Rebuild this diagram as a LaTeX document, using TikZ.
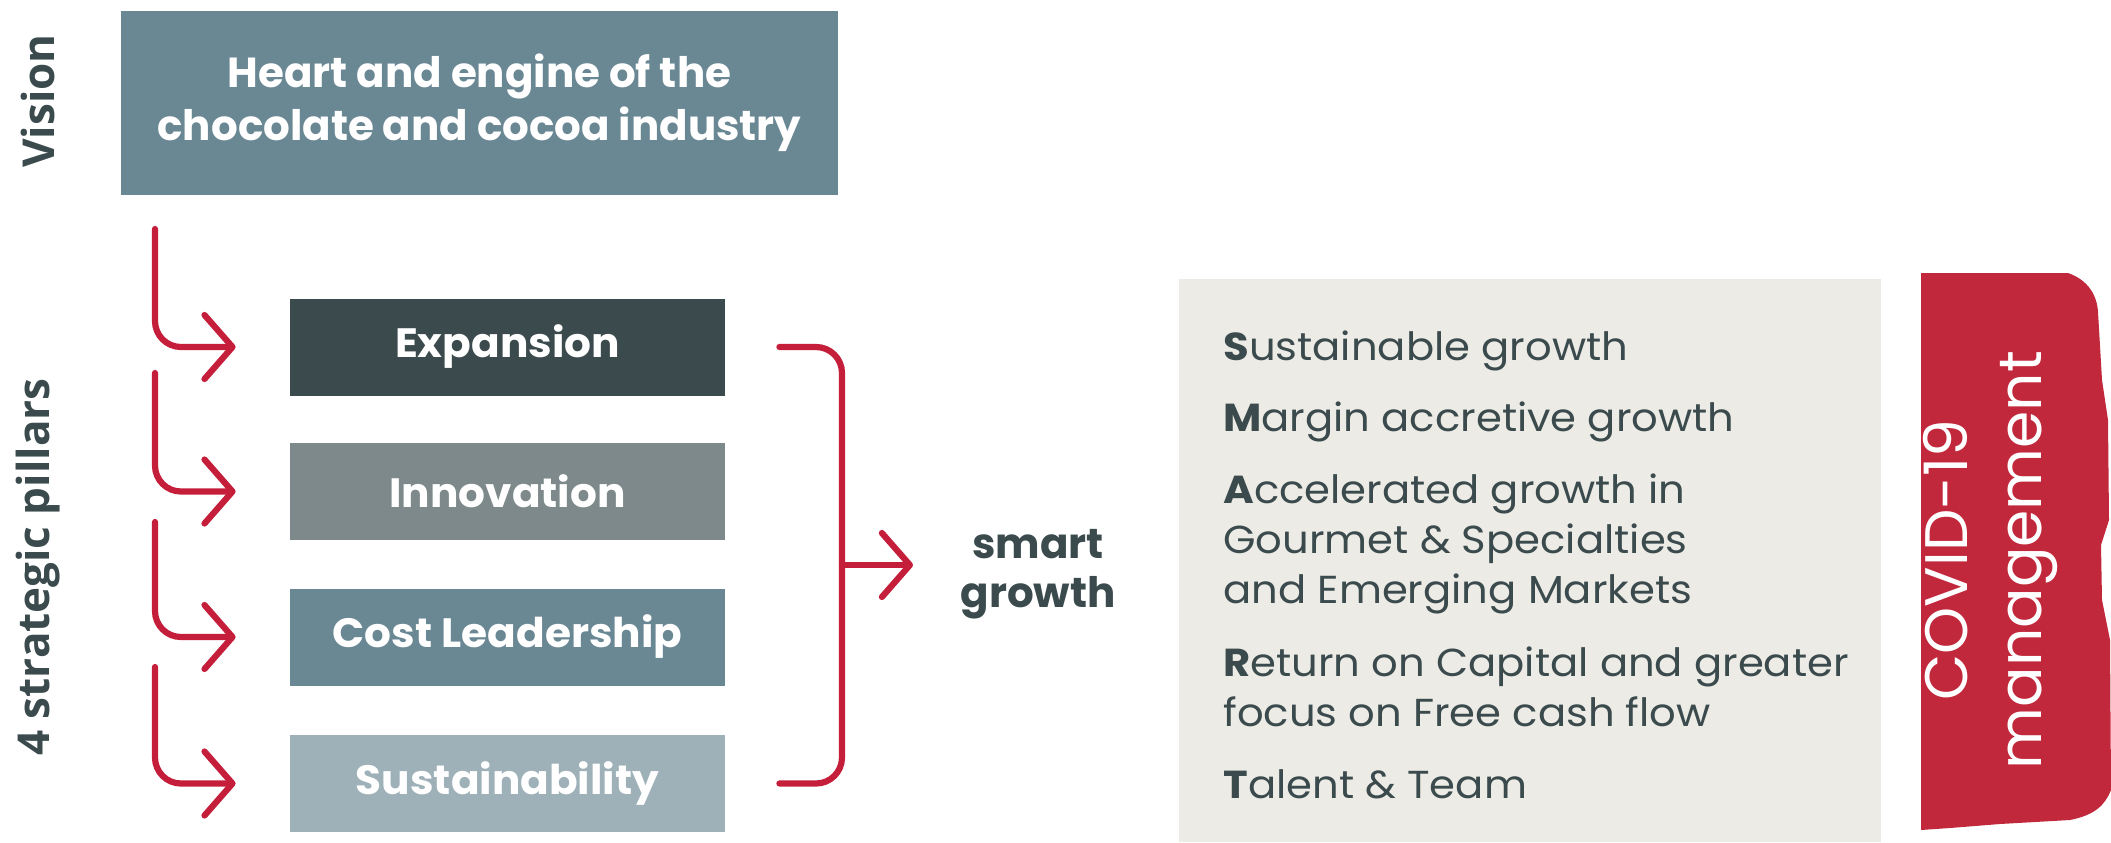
\documentclass[tikz,border=0pt]{standalone}
\usepackage{fontspec}
\setmainfont{Poppins}
\newfontfamily\sidefont{Open Sans}
\newfontfamily\goalfont{Poppins}[FakeStretch=1.07]
\newfontfamily\pillarfont{Poppins}[FakeStretch=1.03]
\usetikzlibrary{arrows.meta}
\definecolor{darktxt}{HTML}{3A4A4D}
\definecolor{visionc}{HTML}{6A8794}
\definecolor{expc}{HTML}{3B4A4C}
\definecolor{innc}{HTML}{7E898B}
\definecolor{costc}{HTML}{6A8794}
\definecolor{susc}{HTML}{9EB0B8}
\definecolor{beige}{HTML}{EDEBE5}
\definecolor{redline}{HTML}{C41E3A}
\definecolor{redbox}{HTML}{C1283B}
\begin{document}
\begin{tikzpicture}[x=0.5pt,y=-0.5pt,
  pillar/.style={minimum width=217.5pt, minimum height=48.5pt, inner sep=0pt, text=white,
    font=\pillarfont\bfseries\fontsize{20.5}{24}\selectfont},
  sidelabel/.style={rotate=90, text=darktxt, font=\sidefont\bfseries\fontsize{22}{24}\selectfont},
  goalline/.style={anchor=base west, inner sep=0pt, text=darktxt, font=\goalfont\fontsize{19.5}{24}\selectfont},
  redpath/.style={draw=redline, line width=3.1pt, rounded corners=13pt, line cap=round},
  redarrow/.style={redpath, -{Straight Barb[length=14pt,width=32pt,round]}}
]
\useasboundingbox (0,0) rectangle (2111,842);

% vision
\node[fill=visionc, minimum width=358.5pt, minimum height=92pt, inner sep=0pt, text=white,
  align=center, font=\bfseries\fontsize{21}{26.5}\selectfont] (vision) at (479.5,103)
  {Heart and engine of the\\chocolate and cocoa industry};
\node[sidelabel] (visionlbl) at (38,101) {Vision};
\node[sidelabel] (pillarlbl) at (38,567) {4 strategic pillars};

% pillars
\node[pillar, fill=expc] (exp) at (507.5,347) {Expansion};
\node[pillar, fill=innc] (inn) at (507.5,491.5) {Innovation};
\node[pillar, fill=costc] (cost) at (507.5,637) {Cost Leadership};
\node[pillar, fill=susc] (sus) at (507.5,783.5) {Sustainability};

% left arrows
\coordinate (a1) at (155,229);
\coordinate (a2) at (155,373);
\coordinate (a3) at (155,522);
\coordinate (a4) at (155,667);
\draw[redarrow] (a1) |- ([xshift=-27pt]exp.west);
\draw[redarrow] (a2) |- ([xshift=-27pt]inn.west);
\draw[redarrow] (a3) |- ([xshift=-27pt]cost.west);
\draw[redarrow] (a4) |- ([xshift=-27pt]sus.west);

% right bracket
\coordinate (bx) at (842,565);
\coordinate (tip) at (913,565);
\draw[redpath] ([xshift=27pt]exp.east) -| (bx) |- ([xshift=27pt]sus.east);
\draw[redarrow] (bx) -- (tip);

\node[align=center, text=darktxt, font=\bfseries\fontsize{21}{24.5}\selectfont] (smart) at (1038,574) {smart\\growth};

% goals box
\fill[beige] (1179,279) rectangle (1881,842);
\node[goalline] (g1) at (1223,360) {\textbf{S}ustainable growth};
\node[goalline] (g2) at (1223,431) {\textbf{M}argin accretive growth};
\node[goalline] (g3) at (1223,503) {\textbf{A}ccelerated growth in};
\node[goalline] (g4) at (1223,553) {Gourmet \& Specialties};
\node[goalline] (g5) at (1223,603) {and Emerging Markets};
\node[goalline] (g6) at (1223,676) {\textbf{R}eturn on Capital and greater};
\node[goalline] (g7) at (1223,726) {focus on Free cash flow};
\node[goalline] (g8) at (1223,798) {\textbf{T}alent \& Team};

% covid box
\fill[redbox] (1921,273) -- (2068,273) .. controls (2088,280) and (2097,295) .. (2098,312)
  -- (2102,380) -- (2108,420) -- (2109,520) -- (2101,545) -- (2102,600) -- (2110,640)
  -- (2111,790) .. controls (2105,805) and (2095,815) .. (2070,820) -- (2000,824) -- (1950,828) -- (1921,830) -- cycle;
\node[rotate=90, align=center, text=white, font=\fontsize{30}{37}\selectfont] (covid) at (1990,560) {COVID-19\\management};
\end{tikzpicture}
\end{document}
